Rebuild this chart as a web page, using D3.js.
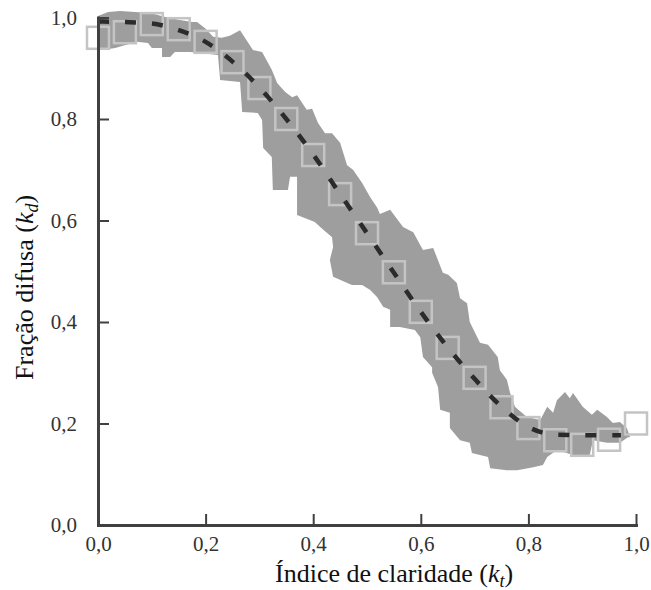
<!DOCTYPE html>
<html>
<head>
<meta charset="utf-8">
<script src="https://cdn.jsdelivr.net/npm/d3@7"></script>
<style>
  body { margin: 0; background: #fff; }
  svg { display: block; }
</style>
</head>
<body>
<div id="chart"></div>
<script>
// squares: observed mean kd per kt bin
const binKt = [0, 0.05, 0.1, 0.15, 0.2, 0.25, 0.3, 0.35, 0.4, 0.45, 0.5,
               0.55, 0.6, 0.65, 0.7, 0.75, 0.8, 0.85, 0.9, 0.95, 1.0];
const binKd = [0.960, 0.971, 0.987, 0.977, 0.952, 0.912, 0.861, 0.800, 0.729, 0.652, 0.575,
               0.498, 0.420, 0.349, 0.290, 0.232, 0.191, 0.167, 0.158, 0.168, 0.200];

// dashed fitted curve
const fitKt = [0, 0.05, 0.1, 0.15, 0.2, 0.25, 0.3, 0.35, 0.4, 0.45, 0.5,
               0.55, 0.6, 0.65, 0.7, 0.75, 0.8, 0.85, 0.9, 0.95, 0.972];
const fitKd = [0.992, 0.991, 0.988, 0.975, 0.952, 0.913, 0.862, 0.800, 0.730, 0.652, 0.575,
               0.497, 0.420, 0.350, 0.288, 0.233, 0.193, 0.178, 0.177, 0.177, 0.177];

// grey scatter envelope, upper edge (left to right)
const upperKt = [0.000, 0.019, 0.041, 0.069, 0.097, 0.125, 0.152, 0.175, 0.184, 0.199, 0.214,
                 0.230, 0.245, 0.264, 0.288, 0.305, 0.323, 0.333, 0.348, 0.361, 0.370, 0.388,
                 0.398, 0.409, 0.422, 0.435, 0.450, 0.463, 0.474, 0.491, 0.506, 0.519, 0.524,
                 0.543, 0.567, 0.586, 0.604, 0.623, 0.641, 0.651, 0.667, 0.673, 0.686, 0.691,
                 0.710, 0.725, 0.743, 0.747, 0.760, 0.766, 0.775, 0.797, 0.822, 0.835, 0.846,
                 0.853, 0.868, 0.877, 0.883, 0.901, 0.918, 0.928, 0.946, 0.957, 0.970, 0.983, 0.989];
const upperKd = [1.003, 1.011, 1.013, 1.011, 1.009, 1.001, 0.995, 0.991, 0.991, 0.979, 0.962,
                 0.960, 0.964, 0.975, 0.936, 0.932, 0.897, 0.871, 0.853, 0.843, 0.847, 0.818,
                 0.820, 0.792, 0.772, 0.772, 0.753, 0.709, 0.700, 0.674, 0.646, 0.625, 0.613,
                 0.621, 0.587, 0.577, 0.542, 0.546, 0.497, 0.493, 0.477, 0.447, 0.437, 0.400,
                 0.359, 0.355, 0.331, 0.305, 0.286, 0.260, 0.233, 0.213, 0.207, 0.233, 0.221,
                 0.246, 0.262, 0.250, 0.260, 0.233, 0.217, 0.227, 0.213, 0.201, 0.203, 0.191, 0.173];

// lower edge (left to right)
const lowerKt = [0.000, 0.007, 0.032, 0.072, 0.093, 0.100, 0.119, 0.119, 0.134, 0.143, 0.171,
                 0.190, 0.223, 0.227, 0.264, 0.268, 0.297, 0.305, 0.307, 0.323, 0.325, 0.353,
                 0.357, 0.370, 0.370, 0.403, 0.413, 0.435, 0.437, 0.431, 0.437, 0.472, 0.491,
                 0.506, 0.519, 0.530, 0.543, 0.543, 0.561, 0.589, 0.599, 0.604, 0.621, 0.621,
                 0.632, 0.636, 0.654, 0.654, 0.673, 0.691, 0.695, 0.725, 0.729, 0.760, 0.779,
                 0.809, 0.827, 0.835, 0.853, 0.883, 0.914, 0.920, 0.946, 0.970, 0.985];
const lowerKd = [0.940, 0.936, 0.940, 0.952, 0.950, 0.940, 0.940, 0.922, 0.922, 0.932, 0.932,
                 0.930, 0.926, 0.877, 0.873, 0.814, 0.812, 0.798, 0.743, 0.725, 0.660, 0.660,
                 0.686, 0.686, 0.611, 0.597, 0.587, 0.567, 0.548, 0.522, 0.489, 0.473, 0.473,
                 0.463, 0.449, 0.430, 0.424, 0.390, 0.390, 0.384, 0.370, 0.331, 0.311, 0.300,
                 0.272, 0.227, 0.221, 0.191, 0.167, 0.162, 0.142, 0.134, 0.112, 0.108, 0.108,
                 0.114, 0.118, 0.134, 0.148, 0.138, 0.138, 0.167, 0.162, 0.162, 0.173];

const xTicks = [0, 0.2, 0.4, 0.6, 0.8, 1.0];
const yTicks = [0, 0.2, 0.4, 0.6, 0.8, 1.0];

const width = 651;
const height = 590;
const serif = "'Liberation Serif', 'Times New Roman', serif";

const svg = d3.select("#chart")
  .append("svg")
  .attr("width", width)
  .attr("height", height);

const x = d3.scaleLinear().domain([0, 1]).range([98, 636]);
const y = d3.scaleLinear().domain([0, 1]).range([525, 17.5]);

const fmt = d => d3.format(".1f")(d).replace(".", ",");

// envelope polygon
const band = upperKt.map((k, i) => [k, upperKd[i]])
  .concat(lowerKt.map((k, i) => [k, lowerKd[i]]).reverse());

svg.append("path")
  .datum(band)
  .attr("d", d3.line().x(d => x(d[0])).y(d => y(d[1])).curve(d3.curveLinearClosed))
  .attr("fill", "#9e9e9e")
  .attr("stroke", "none");

// hollow squares
const sq = 22;
svg.append("g")
  .selectAll("rect")
  .data(binKt.map((k, i) => [k, binKd[i]]))
  .join("rect")
  .attr("x", d => x(d[0]) - sq / 2)
  .attr("y", d => y(d[1]) - sq / 2)
  .attr("width", sq)
  .attr("height", sq)
  .attr("fill", "none")
  .attr("stroke", "#c4c4c4")
  .attr("stroke-width", 2.5);

// dashed fit
svg.append("path")
  .datum(fitKt.map((k, i) => [k, fitKd[i]]))
  .attr("d", d3.line().x(d => x(d[0])).y(d => y(d[1])).curve(d3.curveMonotoneX))
  .attr("fill", "none")
  .attr("stroke", "#2b2b2b")
  .attr("stroke-width", 4.5)
  .attr("stroke-dasharray", "11,16");

// axes
const xAxis = svg.append("g")
  .attr("transform", `translate(0,${y(0)})`)
  .call(d3.axisBottom(x).tickValues(xTicks).tickFormat(fmt)
    .tickSizeInner(-11).tickSizeOuter(0).tickPadding(11));

const yAxis = svg.append("g")
  .attr("transform", `translate(${x(0)},0)`)
  .call(d3.axisLeft(y).tickValues(yTicks).tickFormat(fmt)
    .tickSizeInner(-11).tickSizeOuter(0).tickPadding(21));

[xAxis, yAxis].forEach(g => {
  g.select(".domain").attr("stroke", "#404040").attr("stroke-width", 3)
    .attr("stroke-linecap", "square");
  g.selectAll(".tick line").attr("stroke", "#404040").attr("stroke-width", 2);
  g.selectAll(".tick text")
    .attr("fill", "#333")
    .style("font-family", serif)
    .style("font-size", "21px");
});
yAxis.selectAll(".tick").filter(d => d === 0).select("line").remove();
xAxis.selectAll(".tick").filter(d => d === 0).select("line").remove();

// axis titles
const xt = svg.append("text")
  .attr("x", 275)
  .attr("y", 582)
  .attr("fill", "#111")
  .style("font-family", serif)
  .style("font-size", "26px");
xt.append("tspan").text("Índice de claridade (");
xt.append("tspan").attr("font-style", "italic").text("k");
xt.append("tspan").attr("font-style", "italic").attr("font-size", "18px").attr("dy", 5).text("t");
xt.append("tspan").attr("dy", -5).text(")");

const yt = svg.append("text")
  .attr("transform", "translate(33,380) rotate(-90)")
  .attr("fill", "#111")
  .style("font-family", serif)
  .style("font-size", "26px");
yt.append("tspan").text("Fração difusa (");
yt.append("tspan").attr("font-style", "italic").text("k");
yt.append("tspan").attr("font-style", "italic").attr("font-size", "18px").attr("dy", 5).text("d");
yt.append("tspan").attr("dy", -5).text(")");
</script>
</body>
</html>
